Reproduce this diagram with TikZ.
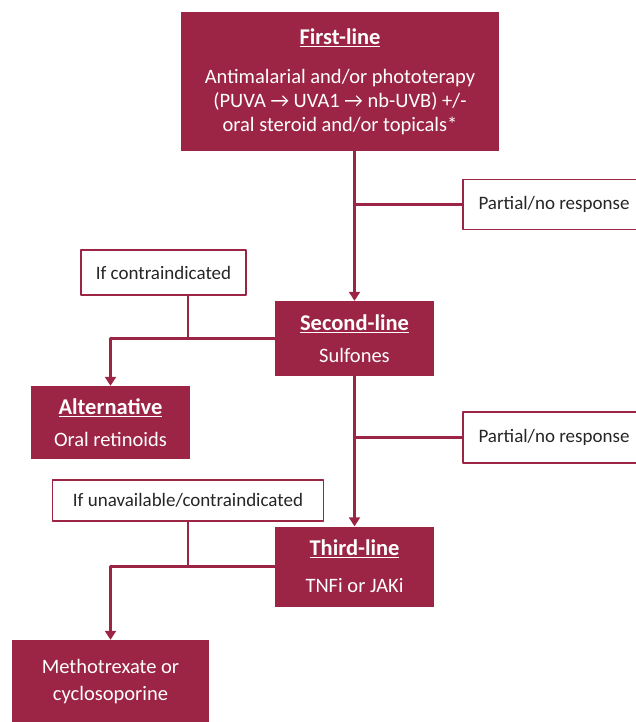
\documentclass[tikz,border=0pt]{standalone}
\usepackage{fontspec}
\setmainfont{Carlito}
\usetikzlibrary{arrows.meta,positioning}
\definecolor{maroon}{RGB}{156,36,68}
\newcommand{\hd}[1]{{\fontsize{22.5}{27}\selectfont\textbf{\underline{#1}}}}
\begin{document}
\begin{tikzpicture}[x=1pt, y=-1pt, line join=round, >={Triangle[width=11pt,length=9pt]},
  link/.style={draw=maroon, line width=2.4pt},
  darkbox/.style={fill=maroon, text=white, font=\fontsize{20.5}{24}\selectfont, align=center, inner sep=0pt},
  lightbox/.style={draw=maroon, line width=1.2pt, fill=white, text=black!85, font=\fontsize{19}{22}\selectfont, align=center, inner sep=0pt}]
\useasboundingbox (0,0) rectangle (636,722);
\clip (0,0) rectangle (636,722);

% Các bậc điều trị
\node[darkbox, minimum width=318pt, minimum height=139pt] (first) at (340,81.5)
  {\hd{First-line}\\[15pt]Antimalarial and/or phototerapy\\(PUVA → UVA1 → nb-UVB) +/-\\oral steroid and/or topicals*};
\node[darkbox, minimum width=159pt, minimum height=75pt] (second) at (354.5,338.5)
  {\hd{Second-line}\\[8pt]Sulfones};
\node[darkbox, minimum width=159pt, minimum height=80pt] (third) at (354.5,566.5)
  {\hd{Third-line}\\[13pt]TNFi or JAKi};
\node[darkbox, minimum width=159pt, minimum height=73pt] (alt) at (110.5,422.5)
  {\hd{Alternative}\\[8pt]Oral retinoids};
\node[darkbox, minimum width=197pt, minimum height=84pt, font=\fontsize{20.5}{27}\selectfont] (metho) at (110.5,682)
  {Methotrexate or\\cyclosoporine};

% Điều kiện chuyển bậc
\node[lightbox, minimum width=182pt, minimum height=50pt] (partA) at (554,204.5) {Partial/no response};
\node[lightbox, minimum width=182pt, minimum height=51pt] (partB) at (554,437.5) {Partial/no response};
\node[lightbox, minimum width=165pt, minimum height=45pt] (contra) at (163.5,272.5) {If contraindicated};
\node[lightbox, minimum width=271pt, minimum height=41pt] (unavail) at (188,500.5) {If unavailable/contraindicated};
\coordinate (stemA) at (188,338.5);

% Mũi tên
\draw[link, ->] (first.south -| second.north) -- (second.north);
\draw[link] (partA.west) -- (partA.west -| second.north);
\draw[link, ->] (second.south) -- (third.north);
\draw[link] (partB.west) -- (partB.west -| third.north);
\draw[link, ->] (second.west) -| (alt.north);
\draw[link] (contra.south -| stemA) -- (stemA);
\draw[link, ->] (third.west) -| (metho.north);
\draw[link] (unavail.south) -- (unavail.south |- third.west);
\end{tikzpicture}
\end{document}
